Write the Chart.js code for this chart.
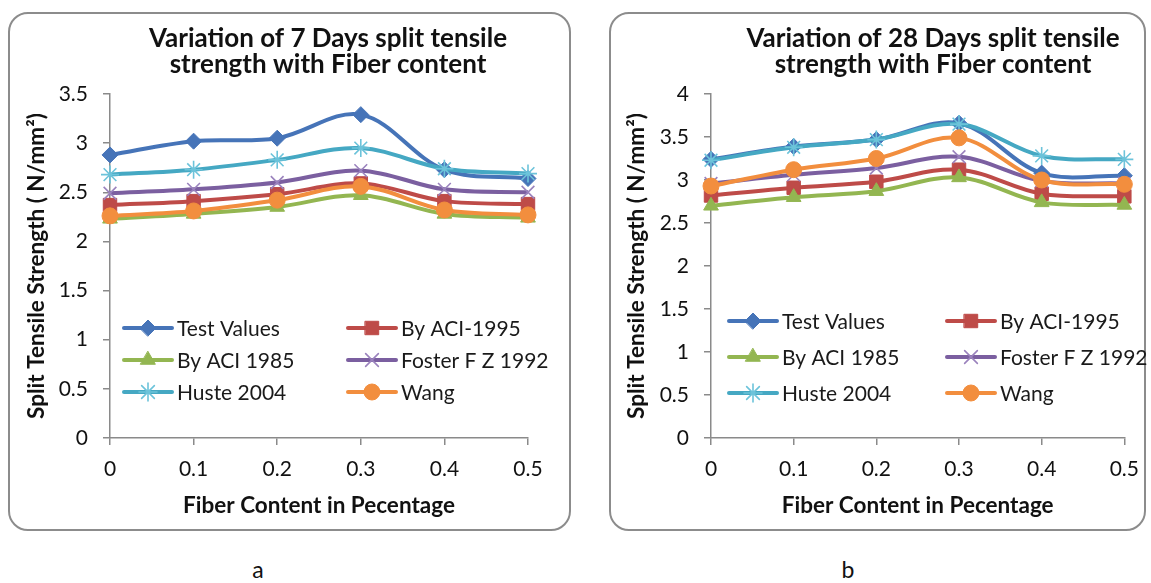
<!DOCTYPE html>
<html>
<head>
<meta charset="utf-8">
<title>Split tensile strength vs fiber content</title>
<script src="https://cdn.jsdelivr.net/npm/chart.js@4.4.1/dist/chart.umd.min.js"></script>
<style>
  body { margin: 0; background: #fff; width: 1151px; height: 583px; position: relative; overflow: hidden; font-family: Lato, "Open Sans", sans-serif; }
  .frame { position: absolute; border: 2px solid #8c8c8c; border-radius: 20px; box-sizing: border-box; }
  canvas { position: absolute; }
  .cap { position: absolute; top: 555px; font-size: 23px; color: #111; transform: translateX(-50%); }
</style>
</head>
<body>
<div class="frame" style="left:8px;top:12px;width:563px;height:519px;"></div>
<div class="frame" style="left:609px;top:12px;width:537px;height:519px;"></div>
<canvas id="chart7" width="562" height="518" style="left:8px;top:12px;"></canvas>
<canvas id="chart28" width="542" height="518" style="left:609px;top:12px;"></canvas>
<div class="cap" style="left:258px;">a</div>
<div class="cap" style="left:848px;">b</div>

<script>
const fiberLabels = ["0", "0.1", "0.2", "0.3", "0.4", "0.5"];
const seriesNames = ["Test Values", "By ACI-1995", "By ACI 1985", "Foster F Z 1992", "Huste 2004", "Wang"];
const seriesColors = ["#4674b8", "#be4b48", "#93b651", "#7b5fa0", "#45a8c3", "#f28e3e"];
const markerColors = ["#4674b8", "#be4b48", "#93b651", "#9a82bd", "#6cc3da", "#f28e3e"];
const pointShapes = ["rectRot", "rect", "triangle", "crossRot", "star", "circle"];
const pointSizes = [8, 9.5, 8.5, 9, 9, 8];

// 7 days
const test7 = [2.88, 3.02, 3.05, 3.29, 2.73, 2.64];
const aci95_7 = [2.37, 2.41, 2.48, 2.59, 2.41, 2.38];
const aci85_7 = [2.23, 2.28, 2.35, 2.47, 2.28, 2.24];
const foster7 = [2.49, 2.53, 2.60, 2.72, 2.53, 2.50];
const huste7 = [2.68, 2.73, 2.83, 2.95, 2.74, 2.69];
const wang7 = [2.26, 2.31, 2.42, 2.56, 2.32, 2.27];

// 28 days
const test28 = [3.24, 3.39, 3.47, 3.66, 3.08, 3.05];
const aci95_28 = [2.82, 2.91, 2.98, 3.12, 2.84, 2.81];
const aci85_28 = [2.70, 2.80, 2.87, 3.03, 2.74, 2.71];
const foster28 = [2.96, 3.06, 3.14, 3.27, 2.99, 2.96];
const huste28 = [3.23, 3.38, 3.47, 3.65, 3.28, 3.24];
const wang28 = [2.93, 3.12, 3.25, 3.49, 3.00, 2.95];

const yTicks7 = { max: 3.5, step: 0.5 };
const yTicks28 = { max: 4, step: 0.5 };

const fontFamily = "Lato, 'Open Sans', sans-serif";

function buildDatasets(seriesList) {
  return seriesList.map((values, i) => {
    const thin = pointShapes[i] === "crossRot" || pointShapes[i] === "star";
    return {
      label: seriesNames[i],
      data: values,
      borderColor: seriesColors[i],
      borderWidth: 4,
      tension: 0.35,
      pointStyle: pointShapes[i],
      pointRadius: pointSizes[i],
      pointHoverRadius: pointSizes[i],
      pointBackgroundColor: markerColors[i],
      pointBorderColor: markerColors[i],
      pointBorderWidth: thin ? 1.6 : 1,
      order: seriesList.length - i
    };
  });
}

// titles and legend are drawn inside the frame like the Excel original
const framePlugin = {
  id: "frameText",
  afterDraw(chart, args, opts) {
    const ctx = chart.ctx;
    const area = chart.chartArea;
    ctx.save();
    ctx.fillStyle = "#111";
    ctx.textAlign = "center";
    ctx.textBaseline = "alphabetic";
    ctx.font = "bold 26px " + fontFamily;
    opts.title.forEach((line, k) => ctx.fillText(line, opts.titleX, opts.titleY[k]));

    ctx.textBaseline = "middle";
    chart.data.datasets.forEach((ds, i) => {
      const col = i % 2, row = Math.floor(i / 2);
      const x = area.left + opts.legendCols[col];
      const y = opts.legendRows[row];
      ctx.strokeStyle = ds.borderColor;
      ctx.lineWidth = 4;
      ctx.lineCap = "round";
      ctx.beginPath();
      ctx.moveTo(x, y);
      ctx.lineTo(x + 48, y);
      ctx.stroke();
      ctx.fillStyle = ds.pointBackgroundColor;
      ctx.strokeStyle = ds.pointBorderColor;
      ctx.lineWidth = ds.pointBorderWidth;
      Chart.helpers.drawPoint(ctx, {
        pointStyle: ds.pointStyle,
        radius: ds.pointRadius,
        borderWidth: ds.pointBorderWidth,
        rotation: 0
      }, x + 24, y);
      ctx.fillStyle = "#1a1a1a";
      ctx.textAlign = "left";
      ctx.font = "21px " + fontFamily;
      ctx.fillText(ds.label, x + 53, y + 1);
    });
    ctx.restore();
  }
};

function makeChart(id, seriesList, yRange, cfg) {
  const ctx = document.getElementById(id).getContext("2d");
  return new Chart(ctx, {
    type: "line",
    data: { labels: fiberLabels, datasets: buildDatasets(seriesList) },
    options: {
      responsive: false,
      animation: false,
      layout: { padding: { top: 82, right: cfg.padRight, left: 0, bottom: 0 } },
      plugins: {
        legend: { display: false },
        tooltip: { enabled: false },
        title: { display: false },
        frameText: cfg.text
      },
      scales: {
        x: {
          type: "category",
          offset: false,
          afterFit: s => { s.height = 92; },
          border: { display: true, color: "#8a8a8a", width: 1.5 },
          grid: { drawOnChartArea: false, drawTicks: true, tickLength: 7, color: "#8a8a8a", lineWidth: 1.5 },
          ticks: { color: "#111", padding: 12, maxRotation: 0, font: { family: fontFamily, size: 21 } },
          title: {
            display: true,
            text: "Fiber Content in Pecentage",
            color: "#111",
            padding: { top: 0, bottom: 11 },
            font: { family: fontFamily, size: 22.5, weight: "bold" }
          }
        },
        y: {
          min: 0,
          max: yRange.max,
          afterFit: s => { s.width = cfg.yWidth; },
          border: { display: true, color: "#8a8a8a", width: 1.5 },
          grid: { drawOnChartArea: false, drawTicks: true, tickLength: 7, color: "#8a8a8a", lineWidth: 1.5 },
          ticks: {
            stepSize: yRange.step,
            color: "#111",
            padding: 15,
            font: { family: fontFamily, size: 21 },
            callback: v => String(v)
          },
          title: {
            display: true,
            text: "Split Tensile Strength ( N/mm²)",
            color: "#111",
            padding: { top: cfg.yTitlePad, bottom: 0 },
            font: { family: fontFamily, size: 22.5, weight: "bold" }
          }
        }
      }
    },
    plugins: [framePlugin]
  });
}

makeChart("chart7", [test7, aci95_7, aci85_7, foster7, huste7, wang7], yTicks7, {
  padRight: 42,
  yWidth: 102,
  yTitlePad: 15,
  text: {
    title: ["Variation of 7 Days split tensile", "strength with Fiber content"],
    titleX: 320,
    titleY: [35, 61],
    legendCols: [14, 238],
    legendRows: [316, 348, 380]
  }
});

makeChart("chart28", [test28, aci95_28, aci85_28, foster28, huste28, wang28], yTicks28, {
  padRight: 25,
  yWidth: 102,
  yTitlePad: 14,
  text: {
    title: ["Variation of 28 Days split tensile", "strength with Fiber content"],
    titleX: 324,
    titleY: [35, 61],
    legendCols: [18, 236],
    legendRows: [309, 345, 381]
  }
});
</script>
</body>
</html>
